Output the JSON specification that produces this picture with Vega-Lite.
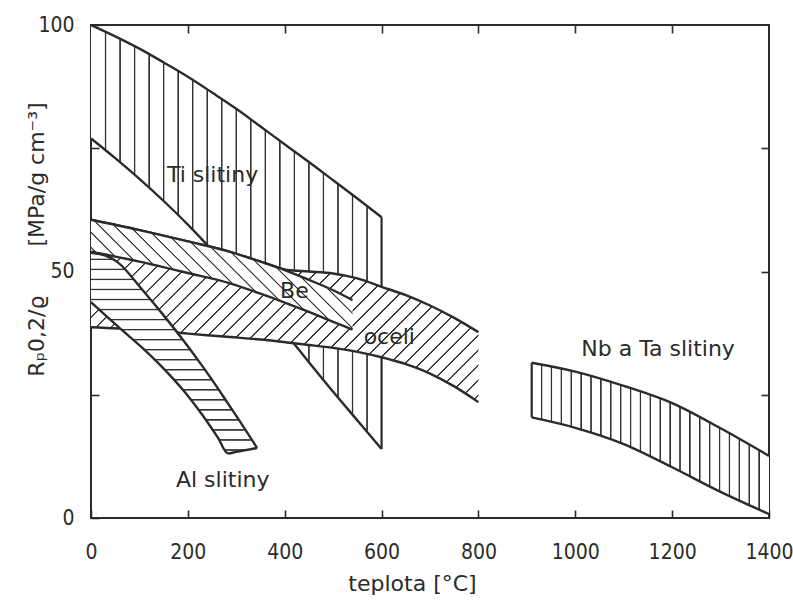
{
  "$schema": "https://vega.github.io/schema/vega-lite/v6.json",
  "width": 678,
  "height": 493,
  "autosize": "none",
  "padding": {"left": 91, "top": 25, "right": 24, "bottom": 86},
  "background": "white",
  "config": {
    "view": {"stroke": "#2b2b2b", "strokeWidth": 2},
    "axis": {
      "grid": false,
      "domain": false,
      "ticks": true,
      "tickSize": -8,
      "tickWidth": 1.6,
      "tickColor": "#2b2b2b",
      "labelFont": "DejaVu Sans Condensed, DejaVu Sans, sans-serif",
      "labelFontSize": 21,
      "labelColor": "#2b2b2b",
      "titleFont": "DejaVu Sans",
      "titleFontWeight": "normal",
      "titleFontSize": 22,
      "titleColor": "#2b2b2b"
    }
  },
  "datasets": {
    "ti": [
      {"x": 0, "hi": 100, "lo": 77}, {"x": 50, "hi": 97.7, "lo": 73}, {"x": 100, "hi": 95.2, "lo": 68.8},
      {"x": 150, "hi": 92.4, "lo": 64.3}, {"x": 200, "hi": 89.5, "lo": 59.5}, {"x": 250, "hi": 86.3, "lo": 54.3},
      {"x": 300, "hi": 83, "lo": 48.8}, {"x": 350, "hi": 79.4, "lo": 43}, {"x": 418, "hi": 74.5, "lo": 35.5},
      {"x": 450, "hi": 72.2, "lo": 31.6}, {"x": 500, "hi": 68.5, "lo": 25.6}, {"x": 550, "hi": 64.8, "lo": 19.8},
      {"x": 600, "hi": 61, "lo": 14}
    ],
    "steel": [
      {"x": 0, "hi": 60.5, "lo": 38.7}, {"x": 100, "hi": 58.4, "lo": 38.2}, {"x": 200, "hi": 56.1, "lo": 37.4},
      {"x": 287, "hi": 54, "lo": 36.7}, {"x": 350, "hi": 52, "lo": 36.2}, {"x": 405, "hi": 50.3, "lo": 35.6},
      {"x": 450, "hi": 50, "lo": 35.1}, {"x": 500, "hi": 49.6, "lo": 34.5}, {"x": 550, "hi": 48.6, "lo": 33.7},
      {"x": 600, "hi": 46.9, "lo": 32.6}, {"x": 650, "hi": 45.2, "lo": 31.2}, {"x": 700, "hi": 43.1, "lo": 29.3},
      {"x": 750, "hi": 40.6, "lo": 26.7}, {"x": 800, "hi": 37.7, "lo": 23.5}
    ],
    "be": [
      {"x": 0, "hi": 60.5, "lo": 54}, {"x": 100, "hi": 58.4, "lo": 52}, {"x": 200, "hi": 56.1, "lo": 49.7},
      {"x": 287, "hi": 54, "lo": 47.6}, {"x": 350, "hi": 52, "lo": 45.5}, {"x": 400, "hi": 50.3, "lo": 43.7},
      {"x": 450, "hi": 48.3, "lo": 41.8}, {"x": 500, "hi": 46.2, "lo": 39.8}, {"x": 540, "hi": 44.2, "lo": 38.2}
    ],
    "al": [
      {"x": 0, "hi": 53.8, "lo": 43.8}, {"x": 30, "hi": 53.2, "lo": 41.1}, {"x": 56, "hi": 51.8, "lo": 38.8},
      {"x": 105, "hi": 46.4, "lo": 34.6}, {"x": 150, "hi": 41.1, "lo": 30.3}, {"x": 194, "hi": 35.6, "lo": 25.5},
      {"x": 230, "hi": 30.8, "lo": 20.9}, {"x": 262, "hi": 26.3, "lo": 16.3}, {"x": 283, "hi": 23.2, "lo": 13.1},
      {"x": 300, "hi": 20.7, "lo": 13.4}, {"x": 343, "hi": 14.2, "lo": 14.2}
    ],
    "nb": [
      {"x": 910, "hi": 31.5, "lo": 20.4}, {"x": 1000, "hi": 29.7, "lo": 18.3}, {"x": 1100, "hi": 26.8, "lo": 15},
      {"x": 1200, "hi": 23.3, "lo": 10.3}, {"x": 1300, "hi": 18.2, "lo": 5.3}, {"x": 1400, "hi": 12.6, "lo": 0.8}
    ],
    "labels": [
      {"t": "Ti slitiny", "x": 251, "y": 69.6},
      {"t": "Be", "x": 420, "y": 46},
      {"t": "oceli", "x": 616, "y": 36.7},
      {"t": "Nb a Ta slitiny", "x": 1171, "y": 34.3},
      {"t": "Al slitiny", "x": 272, "y": 7.7}
    ]
  },
  "encoding": {
    "x": {"field": "x", "type": "quantitative", "scale": {"domain": [0, 1400], "nice": false, "zero": false}, "axis": null}
  },
  "layer": [
    {
      "data": {"name": "ti"},
      "mark": {"type": "area", "interpolate": "monotone", "fill": {"gradient": "linear", "x1": 0, "y1": 0, "x2": 1, "y2": 0, "stops": [
        {"offset": 0, "color": "white"},
        {"offset": 0.0462, "color": "white"}, {"offset": 0.0486, "color": "#333"}, {"offset": 0.0514, "color": "#333"}, {"offset": 0.0538, "color": "white"},
        {"offset": 0.0962, "color": "white"}, {"offset": 0.0986, "color": "#333"}, {"offset": 0.1014, "color": "#333"}, {"offset": 0.1038, "color": "white"},
        {"offset": 0.1462, "color": "white"}, {"offset": 0.1486, "color": "#333"}, {"offset": 0.1514, "color": "#333"}, {"offset": 0.1538, "color": "white"},
        {"offset": 0.1962, "color": "white"}, {"offset": 0.1986, "color": "#333"}, {"offset": 0.2014, "color": "#333"}, {"offset": 0.2038, "color": "white"},
        {"offset": 0.2462, "color": "white"}, {"offset": 0.2486, "color": "#333"}, {"offset": 0.2514, "color": "#333"}, {"offset": 0.2538, "color": "white"},
        {"offset": 0.2962, "color": "white"}, {"offset": 0.2986, "color": "#333"}, {"offset": 0.3014, "color": "#333"}, {"offset": 0.3038, "color": "white"},
        {"offset": 0.3462, "color": "white"}, {"offset": 0.3486, "color": "#333"}, {"offset": 0.3514, "color": "#333"}, {"offset": 0.3538, "color": "white"},
        {"offset": 0.3962, "color": "white"}, {"offset": 0.3986, "color": "#333"}, {"offset": 0.4014, "color": "#333"}, {"offset": 0.4038, "color": "white"},
        {"offset": 0.4462, "color": "white"}, {"offset": 0.4486, "color": "#333"}, {"offset": 0.4514, "color": "#333"}, {"offset": 0.4538, "color": "white"},
        {"offset": 0.4962, "color": "white"}, {"offset": 0.4986, "color": "#333"}, {"offset": 0.5014, "color": "#333"}, {"offset": 0.5038, "color": "white"},
        {"offset": 0.5462, "color": "white"}, {"offset": 0.5486, "color": "#333"}, {"offset": 0.5514, "color": "#333"}, {"offset": 0.5538, "color": "white"},
        {"offset": 0.5962, "color": "white"}, {"offset": 0.5986, "color": "#333"}, {"offset": 0.6014, "color": "#333"}, {"offset": 0.6038, "color": "white"},
        {"offset": 0.6462, "color": "white"}, {"offset": 0.6486, "color": "#333"}, {"offset": 0.6514, "color": "#333"}, {"offset": 0.6538, "color": "white"},
        {"offset": 0.6962, "color": "white"}, {"offset": 0.6986, "color": "#333"}, {"offset": 0.7014, "color": "#333"}, {"offset": 0.7038, "color": "white"},
        {"offset": 0.7462, "color": "white"}, {"offset": 0.7486, "color": "#333"}, {"offset": 0.7514, "color": "#333"}, {"offset": 0.7538, "color": "white"},
        {"offset": 0.7962, "color": "white"}, {"offset": 0.7986, "color": "#333"}, {"offset": 0.8014, "color": "#333"}, {"offset": 0.8038, "color": "white"},
        {"offset": 0.8462, "color": "white"}, {"offset": 0.8486, "color": "#333"}, {"offset": 0.8514, "color": "#333"}, {"offset": 0.8538, "color": "white"},
        {"offset": 0.8962, "color": "white"}, {"offset": 0.8986, "color": "#333"}, {"offset": 0.9014, "color": "#333"}, {"offset": 0.9038, "color": "white"},
        {"offset": 0.9462, "color": "white"}, {"offset": 0.9486, "color": "#333"}, {"offset": 0.9514, "color": "#333"}, {"offset": 0.9538, "color": "white"},
        {"offset": 1, "color": "white"}
      ]}},
      "encoding": {
        "x": {"field": "x", "type": "quantitative", "scale": {"domain": [0, 1400], "nice": false, "zero": false},
              "axis": {"orient": "bottom", "values": [0, 200, 400, 600, 800, 1000, 1200, 1400], "format": "d", "labelPadding": 31, "labelFlush": false,
                       "title": "teplota [°C]", "titleX": 321, "titleY": 65, "titleBaseline": "middle", "titleAlign": "center"}},
        "y": {"field": "hi", "type": "quantitative", "scale": {"domain": [0, 100], "nice": false, "zero": false},
              "axis": {"orient": "left", "values": [0, 25, 50, 75, 100], "labelExpr": "datum.value % 50 == 0 ? datum.label : ''", "labelPadding": 25, "labelFlush": false,
                       "title": "Rₚ0,2/ϱ\u00a0\u00a0\u00a0\u00a0\u00a0\u00a0\u00a0[MPa/g cm⁻³]", "titleX": -55, "titleY": 214, "titleBaseline": "middle", "titleAlign": "center"}},
        "y2": {"field": "lo"}
      }
    },
    {
      "data": {"name": "ti"},
      "mark": {"type": "line", "interpolate": "monotone", "color": "#2b2b2b", "strokeWidth": 2.4},
      "encoding": {"y": {"field": "hi", "type": "quantitative", "scale": {"domain": [0, 100], "nice": false}, "axis": null}}
    },
    {
      "data": {"name": "ti"},
      "mark": {"type": "line", "interpolate": "monotone", "color": "#2b2b2b", "strokeWidth": 2.4},
      "encoding": {"y": {"field": "lo", "type": "quantitative", "scale": {"domain": [0, 100], "nice": false}, "axis": null}}
    },
    {
      "data": {"name": "ti"},
      "transform": [{"filter": "datum.x == 600"}],
      "mark": {"type": "rule", "color": "#2b2b2b", "strokeWidth": 2.2},
      "encoding": {"y": {"field": "hi", "type": "quantitative", "scale": {"domain": [0, 100], "nice": false}, "axis": null}, "y2": {"field": "lo"}}
    },
    {
      "data": {"name": "steel"},
      "mark": {"type": "area", "interpolate": "monotone", "fill": {"gradient": "linear", "x1": 0, "y1": 0, "x2": 1.204, "y2": 0.567, "stops": [
        {"offset": 0, "color": "white"},
        {"offset": 0.0109, "color": "white"}, {"offset": 0.0123, "color": "#333"}, {"offset": 0.0141, "color": "#333"}, {"offset": 0.0155, "color": "white"},
        {"offset": 0.0372, "color": "white"}, {"offset": 0.0386, "color": "#333"}, {"offset": 0.0404, "color": "#333"}, {"offset": 0.0418, "color": "white"},
        {"offset": 0.0636, "color": "white"}, {"offset": 0.0650, "color": "#333"}, {"offset": 0.0668, "color": "#333"}, {"offset": 0.0682, "color": "white"},
        {"offset": 0.0899, "color": "white"}, {"offset": 0.0913, "color": "#333"}, {"offset": 0.0931, "color": "#333"}, {"offset": 0.0945, "color": "white"},
        {"offset": 0.1163, "color": "white"}, {"offset": 0.1177, "color": "#333"}, {"offset": 0.1195, "color": "#333"}, {"offset": 0.1209, "color": "white"},
        {"offset": 0.1426, "color": "white"}, {"offset": 0.1440, "color": "#333"}, {"offset": 0.1458, "color": "#333"}, {"offset": 0.1472, "color": "white"},
        {"offset": 0.1689, "color": "white"}, {"offset": 0.1703, "color": "#333"}, {"offset": 0.1721, "color": "#333"}, {"offset": 0.1735, "color": "white"},
        {"offset": 0.1953, "color": "white"}, {"offset": 0.1967, "color": "#333"}, {"offset": 0.1985, "color": "#333"}, {"offset": 0.1999, "color": "white"},
        {"offset": 0.2216, "color": "white"}, {"offset": 0.2230, "color": "#333"}, {"offset": 0.2248, "color": "#333"}, {"offset": 0.2262, "color": "white"},
        {"offset": 0.2480, "color": "white"}, {"offset": 0.2494, "color": "#333"}, {"offset": 0.2512, "color": "#333"}, {"offset": 0.2526, "color": "white"},
        {"offset": 0.2743, "color": "white"}, {"offset": 0.2757, "color": "#333"}, {"offset": 0.2775, "color": "#333"}, {"offset": 0.2789, "color": "white"},
        {"offset": 0.3006, "color": "white"}, {"offset": 0.3020, "color": "#333"}, {"offset": 0.3038, "color": "#333"}, {"offset": 0.3052, "color": "white"},
        {"offset": 0.3270, "color": "white"}, {"offset": 0.3284, "color": "#333"}, {"offset": 0.3302, "color": "#333"}, {"offset": 0.3316, "color": "white"},
        {"offset": 0.3533, "color": "white"}, {"offset": 0.3547, "color": "#333"}, {"offset": 0.3565, "color": "#333"}, {"offset": 0.3579, "color": "white"},
        {"offset": 0.3797, "color": "white"}, {"offset": 0.3811, "color": "#333"}, {"offset": 0.3829, "color": "#333"}, {"offset": 0.3843, "color": "white"},
        {"offset": 0.4060, "color": "white"}, {"offset": 0.4074, "color": "#333"}, {"offset": 0.4092, "color": "#333"}, {"offset": 0.4106, "color": "white"},
        {"offset": 0.4323, "color": "white"}, {"offset": 0.4337, "color": "#333"}, {"offset": 0.4355, "color": "#333"}, {"offset": 0.4369, "color": "white"},
        {"offset": 0.4587, "color": "white"}, {"offset": 0.4601, "color": "#333"}, {"offset": 0.4619, "color": "#333"}, {"offset": 0.4633, "color": "white"},
        {"offset": 0.4850, "color": "white"}, {"offset": 0.4864, "color": "#333"}, {"offset": 0.4882, "color": "#333"}, {"offset": 0.4896, "color": "white"},
        {"offset": 0.5114, "color": "white"}, {"offset": 0.5128, "color": "#333"}, {"offset": 0.5146, "color": "#333"}, {"offset": 0.5160, "color": "white"},
        {"offset": 0.5377, "color": "white"}, {"offset": 0.5391, "color": "#333"}, {"offset": 0.5409, "color": "#333"}, {"offset": 0.5423, "color": "white"},
        {"offset": 0.5640, "color": "white"}, {"offset": 0.5654, "color": "#333"}, {"offset": 0.5672, "color": "#333"}, {"offset": 0.5686, "color": "white"},
        {"offset": 0.5904, "color": "white"}, {"offset": 0.5918, "color": "#333"}, {"offset": 0.5936, "color": "#333"}, {"offset": 0.5950, "color": "white"},
        {"offset": 0.6167, "color": "white"}, {"offset": 0.6181, "color": "#333"}, {"offset": 0.6199, "color": "#333"}, {"offset": 0.6213, "color": "white"},
        {"offset": 0.6431, "color": "white"}, {"offset": 0.6445, "color": "#333"}, {"offset": 0.6463, "color": "#333"}, {"offset": 0.6477, "color": "white"},
        {"offset": 0.6694, "color": "white"}, {"offset": 0.6708, "color": "#333"}, {"offset": 0.6726, "color": "#333"}, {"offset": 0.6740, "color": "white"},
        {"offset": 0.6957, "color": "white"}, {"offset": 0.6971, "color": "#333"}, {"offset": 0.6989, "color": "#333"}, {"offset": 0.7003, "color": "white"},
        {"offset": 0.7221, "color": "white"}, {"offset": 0.7235, "color": "#333"}, {"offset": 0.7253, "color": "#333"}, {"offset": 0.7267, "color": "white"},
        {"offset": 0.7484, "color": "white"}, {"offset": 0.7498, "color": "#333"}, {"offset": 0.7516, "color": "#333"}, {"offset": 0.7530, "color": "white"},
        {"offset": 0.7748, "color": "white"}, {"offset": 0.7762, "color": "#333"}, {"offset": 0.7780, "color": "#333"}, {"offset": 0.7794, "color": "white"},
        {"offset": 0.8011, "color": "white"}, {"offset": 0.8025, "color": "#333"}, {"offset": 0.8043, "color": "#333"}, {"offset": 0.8057, "color": "white"},
        {"offset": 0.8274, "color": "white"}, {"offset": 0.8288, "color": "#333"}, {"offset": 0.8306, "color": "#333"}, {"offset": 0.8320, "color": "white"},
        {"offset": 0.8538, "color": "white"}, {"offset": 0.8552, "color": "#333"}, {"offset": 0.8570, "color": "#333"}, {"offset": 0.8584, "color": "white"},
        {"offset": 0.8801, "color": "white"}, {"offset": 0.8815, "color": "#333"}, {"offset": 0.8833, "color": "#333"}, {"offset": 0.8847, "color": "white"},
        {"offset": 0.9065, "color": "white"}, {"offset": 0.9079, "color": "#333"}, {"offset": 0.9097, "color": "#333"}, {"offset": 0.9111, "color": "white"},
        {"offset": 0.9328, "color": "white"}, {"offset": 0.9342, "color": "#333"}, {"offset": 0.9360, "color": "#333"}, {"offset": 0.9374, "color": "white"},
        {"offset": 0.9591, "color": "white"}, {"offset": 0.9605, "color": "#333"}, {"offset": 0.9623, "color": "#333"}, {"offset": 0.9637, "color": "white"},
        {"offset": 0.9855, "color": "white"}, {"offset": 0.9869, "color": "#333"}, {"offset": 0.9887, "color": "#333"}, {"offset": 0.9901, "color": "white"},
        {"offset": 1, "color": "white"}
      ]}},
      "encoding": {"y": {"field": "hi", "type": "quantitative", "scale": {"domain": [0, 100], "nice": false}, "axis": null}, "y2": {"field": "lo"}}
    },
    {
      "data": {"name": "steel"},
      "mark": {"type": "line", "interpolate": "monotone", "color": "#2b2b2b", "strokeWidth": 2.4},
      "encoding": {"y": {"field": "hi", "type": "quantitative", "scale": {"domain": [0, 100], "nice": false}, "axis": null}}
    },
    {
      "data": {"name": "steel"},
      "mark": {"type": "line", "interpolate": "monotone", "color": "#2b2b2b", "strokeWidth": 2.4},
      "encoding": {"y": {"field": "lo", "type": "quantitative", "scale": {"domain": [0, 100], "nice": false}, "axis": null}}
    },
    {
      "data": {"name": "be"},
      "mark": {"type": "area", "interpolate": "monotone", "fill": {"gradient": "linear", "x1": 0, "y1": 1, "x2": 1.207, "y2": 0.491, "stops": [
        {"offset": 0, "color": "white"},
        {"offset": 0.0169, "color": "white"}, {"offset": 0.0190, "color": "#333"}, {"offset": 0.0214, "color": "#333"}, {"offset": 0.0235, "color": "white"},
        {"offset": 0.0573, "color": "white"}, {"offset": 0.0594, "color": "#333"}, {"offset": 0.0618, "color": "#333"}, {"offset": 0.0639, "color": "white"},
        {"offset": 0.0977, "color": "white"}, {"offset": 0.0998, "color": "#333"}, {"offset": 0.1022, "color": "#333"}, {"offset": 0.1043, "color": "white"},
        {"offset": 0.1381, "color": "white"}, {"offset": 0.1402, "color": "#333"}, {"offset": 0.1426, "color": "#333"}, {"offset": 0.1447, "color": "white"},
        {"offset": 0.1785, "color": "white"}, {"offset": 0.1806, "color": "#333"}, {"offset": 0.1830, "color": "#333"}, {"offset": 0.1851, "color": "white"},
        {"offset": 0.2189, "color": "white"}, {"offset": 0.2210, "color": "#333"}, {"offset": 0.2234, "color": "#333"}, {"offset": 0.2255, "color": "white"},
        {"offset": 0.2593, "color": "white"}, {"offset": 0.2614, "color": "#333"}, {"offset": 0.2638, "color": "#333"}, {"offset": 0.2659, "color": "white"},
        {"offset": 0.2997, "color": "white"}, {"offset": 0.3018, "color": "#333"}, {"offset": 0.3042, "color": "#333"}, {"offset": 0.3063, "color": "white"},
        {"offset": 0.3401, "color": "white"}, {"offset": 0.3422, "color": "#333"}, {"offset": 0.3446, "color": "#333"}, {"offset": 0.3467, "color": "white"},
        {"offset": 0.3805, "color": "white"}, {"offset": 0.3826, "color": "#333"}, {"offset": 0.3850, "color": "#333"}, {"offset": 0.3871, "color": "white"},
        {"offset": 0.4209, "color": "white"}, {"offset": 0.4230, "color": "#333"}, {"offset": 0.4254, "color": "#333"}, {"offset": 0.4275, "color": "white"},
        {"offset": 0.4613, "color": "white"}, {"offset": 0.4634, "color": "#333"}, {"offset": 0.4658, "color": "#333"}, {"offset": 0.4679, "color": "white"},
        {"offset": 0.5017, "color": "white"}, {"offset": 0.5038, "color": "#333"}, {"offset": 0.5062, "color": "#333"}, {"offset": 0.5083, "color": "white"},
        {"offset": 0.5421, "color": "white"}, {"offset": 0.5442, "color": "#333"}, {"offset": 0.5466, "color": "#333"}, {"offset": 0.5487, "color": "white"},
        {"offset": 0.5825, "color": "white"}, {"offset": 0.5846, "color": "#333"}, {"offset": 0.5870, "color": "#333"}, {"offset": 0.5891, "color": "white"},
        {"offset": 0.6229, "color": "white"}, {"offset": 0.6250, "color": "#333"}, {"offset": 0.6274, "color": "#333"}, {"offset": 0.6295, "color": "white"},
        {"offset": 0.6633, "color": "white"}, {"offset": 0.6654, "color": "#333"}, {"offset": 0.6678, "color": "#333"}, {"offset": 0.6699, "color": "white"},
        {"offset": 0.7037, "color": "white"}, {"offset": 0.7058, "color": "#333"}, {"offset": 0.7082, "color": "#333"}, {"offset": 0.7103, "color": "white"},
        {"offset": 0.7441, "color": "white"}, {"offset": 0.7462, "color": "#333"}, {"offset": 0.7486, "color": "#333"}, {"offset": 0.7507, "color": "white"},
        {"offset": 0.7845, "color": "white"}, {"offset": 0.7866, "color": "#333"}, {"offset": 0.7890, "color": "#333"}, {"offset": 0.7911, "color": "white"},
        {"offset": 0.8249, "color": "white"}, {"offset": 0.8270, "color": "#333"}, {"offset": 0.8294, "color": "#333"}, {"offset": 0.8315, "color": "white"},
        {"offset": 0.8653, "color": "white"}, {"offset": 0.8674, "color": "#333"}, {"offset": 0.8698, "color": "#333"}, {"offset": 0.8719, "color": "white"},
        {"offset": 0.9057, "color": "white"}, {"offset": 0.9078, "color": "#333"}, {"offset": 0.9102, "color": "#333"}, {"offset": 0.9123, "color": "white"},
        {"offset": 0.9461, "color": "white"}, {"offset": 0.9482, "color": "#333"}, {"offset": 0.9506, "color": "#333"}, {"offset": 0.9527, "color": "white"},
        {"offset": 0.9865, "color": "white"}, {"offset": 0.9886, "color": "#333"}, {"offset": 0.9910, "color": "#333"}, {"offset": 0.9931, "color": "white"},
        {"offset": 1, "color": "white"}
      ]}},
      "encoding": {"y": {"field": "hi", "type": "quantitative", "scale": {"domain": [0, 100], "nice": false}, "axis": null}, "y2": {"field": "lo"}}
    },
    {
      "data": {"name": "be"},
      "mark": {"type": "line", "interpolate": "monotone", "color": "#2b2b2b", "strokeWidth": 2.4},
      "encoding": {"y": {"field": "hi", "type": "quantitative", "scale": {"domain": [0, 100], "nice": false}, "axis": null}}
    },
    {
      "data": {"name": "be"},
      "mark": {"type": "line", "interpolate": "monotone", "color": "#2b2b2b", "strokeWidth": 2.4},
      "encoding": {"y": {"field": "lo", "type": "quantitative", "scale": {"domain": [0, 100], "nice": false}, "axis": null}}
    },
    {
      "data": {"name": "al"},
      "mark": {"type": "area", "interpolate": "monotone", "fill": {"gradient": "linear", "x1": 0, "y1": 0, "x2": 0, "y2": 1, "stops": [
        {"offset": 0, "color": "white"},
        {"offset": 0.0275, "color": "white"}, {"offset": 0.031, "color": "#333"}, {"offset": 0.035, "color": "#333"}, {"offset": 0.0385, "color": "white"},
        {"offset": 0.0775, "color": "white"}, {"offset": 0.081, "color": "#333"}, {"offset": 0.085, "color": "#333"}, {"offset": 0.0885, "color": "white"},
        {"offset": 0.1275, "color": "white"}, {"offset": 0.131, "color": "#333"}, {"offset": 0.135, "color": "#333"}, {"offset": 0.1385, "color": "white"},
        {"offset": 0.1775, "color": "white"}, {"offset": 0.181, "color": "#333"}, {"offset": 0.185, "color": "#333"}, {"offset": 0.1885, "color": "white"},
        {"offset": 0.2275, "color": "white"}, {"offset": 0.231, "color": "#333"}, {"offset": 0.235, "color": "#333"}, {"offset": 0.2385, "color": "white"},
        {"offset": 0.2775, "color": "white"}, {"offset": 0.281, "color": "#333"}, {"offset": 0.285, "color": "#333"}, {"offset": 0.2885, "color": "white"},
        {"offset": 0.3275, "color": "white"}, {"offset": 0.331, "color": "#333"}, {"offset": 0.335, "color": "#333"}, {"offset": 0.3385, "color": "white"},
        {"offset": 0.3775, "color": "white"}, {"offset": 0.381, "color": "#333"}, {"offset": 0.385, "color": "#333"}, {"offset": 0.3885, "color": "white"},
        {"offset": 0.4275, "color": "white"}, {"offset": 0.431, "color": "#333"}, {"offset": 0.435, "color": "#333"}, {"offset": 0.4385, "color": "white"},
        {"offset": 0.4775, "color": "white"}, {"offset": 0.481, "color": "#333"}, {"offset": 0.485, "color": "#333"}, {"offset": 0.4885, "color": "white"},
        {"offset": 0.5275, "color": "white"}, {"offset": 0.531, "color": "#333"}, {"offset": 0.535, "color": "#333"}, {"offset": 0.5385, "color": "white"},
        {"offset": 0.5775, "color": "white"}, {"offset": 0.581, "color": "#333"}, {"offset": 0.585, "color": "#333"}, {"offset": 0.5885, "color": "white"},
        {"offset": 0.6275, "color": "white"}, {"offset": 0.631, "color": "#333"}, {"offset": 0.635, "color": "#333"}, {"offset": 0.6385, "color": "white"},
        {"offset": 0.6775, "color": "white"}, {"offset": 0.681, "color": "#333"}, {"offset": 0.685, "color": "#333"}, {"offset": 0.6885, "color": "white"},
        {"offset": 0.7275, "color": "white"}, {"offset": 0.731, "color": "#333"}, {"offset": 0.735, "color": "#333"}, {"offset": 0.7385, "color": "white"},
        {"offset": 0.7775, "color": "white"}, {"offset": 0.781, "color": "#333"}, {"offset": 0.785, "color": "#333"}, {"offset": 0.7885, "color": "white"},
        {"offset": 0.8275, "color": "white"}, {"offset": 0.831, "color": "#333"}, {"offset": 0.835, "color": "#333"}, {"offset": 0.8385, "color": "white"},
        {"offset": 0.8775, "color": "white"}, {"offset": 0.881, "color": "#333"}, {"offset": 0.885, "color": "#333"}, {"offset": 0.8885, "color": "white"},
        {"offset": 0.9275, "color": "white"}, {"offset": 0.931, "color": "#333"}, {"offset": 0.935, "color": "#333"}, {"offset": 0.9385, "color": "white"},
        {"offset": 0.9775, "color": "white"}, {"offset": 0.981, "color": "#333"}, {"offset": 0.985, "color": "#333"}, {"offset": 0.9885, "color": "white"},
        {"offset": 1, "color": "white"}
      ]}},
      "encoding": {"y": {"field": "hi", "type": "quantitative", "scale": {"domain": [0, 100], "nice": false}, "axis": null}, "y2": {"field": "lo"}}
    },
    {
      "data": {"name": "al"},
      "mark": {"type": "line", "interpolate": "monotone", "color": "#2b2b2b", "strokeWidth": 2.4},
      "encoding": {"y": {"field": "hi", "type": "quantitative", "scale": {"domain": [0, 100], "nice": false}, "axis": null}}
    },
    {
      "data": {"name": "al"},
      "mark": {"type": "line", "interpolate": "monotone", "color": "#2b2b2b", "strokeWidth": 2.4},
      "encoding": {"y": {"field": "lo", "type": "quantitative", "scale": {"domain": [0, 100], "nice": false}, "axis": null}}
    },
    {
      "data": {"name": "nb"},
      "mark": {"type": "area", "interpolate": "monotone", "fill": {"gradient": "linear", "x1": 0, "y1": 0, "x2": 1, "y2": 0, "stops": [
        {"offset": 0, "color": "white"},
        {"offset": 0.0371, "color": "white"}, {"offset": 0.0400, "color": "#333"}, {"offset": 0.0434, "color": "#333"}, {"offset": 0.0463, "color": "white"},
        {"offset": 0.0787, "color": "white"}, {"offset": 0.0816, "color": "#333"}, {"offset": 0.0850, "color": "#333"}, {"offset": 0.0879, "color": "white"},
        {"offset": 0.1204, "color": "white"}, {"offset": 0.1233, "color": "#333"}, {"offset": 0.1267, "color": "#333"}, {"offset": 0.1296, "color": "white"},
        {"offset": 0.1621, "color": "white"}, {"offset": 0.1650, "color": "#333"}, {"offset": 0.1684, "color": "#333"}, {"offset": 0.1713, "color": "white"},
        {"offset": 0.2037, "color": "white"}, {"offset": 0.2066, "color": "#333"}, {"offset": 0.2100, "color": "#333"}, {"offset": 0.2129, "color": "white"},
        {"offset": 0.2454, "color": "white"}, {"offset": 0.2483, "color": "#333"}, {"offset": 0.2517, "color": "#333"}, {"offset": 0.2546, "color": "white"},
        {"offset": 0.2871, "color": "white"}, {"offset": 0.2900, "color": "#333"}, {"offset": 0.2934, "color": "#333"}, {"offset": 0.2963, "color": "white"},
        {"offset": 0.3287, "color": "white"}, {"offset": 0.3316, "color": "#333"}, {"offset": 0.3350, "color": "#333"}, {"offset": 0.3379, "color": "white"},
        {"offset": 0.3704, "color": "white"}, {"offset": 0.3733, "color": "#333"}, {"offset": 0.3767, "color": "#333"}, {"offset": 0.3796, "color": "white"},
        {"offset": 0.4121, "color": "white"}, {"offset": 0.4150, "color": "#333"}, {"offset": 0.4184, "color": "#333"}, {"offset": 0.4213, "color": "white"},
        {"offset": 0.4537, "color": "white"}, {"offset": 0.4566, "color": "#333"}, {"offset": 0.4600, "color": "#333"}, {"offset": 0.4629, "color": "white"},
        {"offset": 0.4954, "color": "white"}, {"offset": 0.4983, "color": "#333"}, {"offset": 0.5017, "color": "#333"}, {"offset": 0.5046, "color": "white"},
        {"offset": 0.5371, "color": "white"}, {"offset": 0.5400, "color": "#333"}, {"offset": 0.5434, "color": "#333"}, {"offset": 0.5463, "color": "white"},
        {"offset": 0.5787, "color": "white"}, {"offset": 0.5816, "color": "#333"}, {"offset": 0.5850, "color": "#333"}, {"offset": 0.5879, "color": "white"},
        {"offset": 0.6204, "color": "white"}, {"offset": 0.6233, "color": "#333"}, {"offset": 0.6267, "color": "#333"}, {"offset": 0.6296, "color": "white"},
        {"offset": 0.6621, "color": "white"}, {"offset": 0.6650, "color": "#333"}, {"offset": 0.6684, "color": "#333"}, {"offset": 0.6713, "color": "white"},
        {"offset": 0.7037, "color": "white"}, {"offset": 0.7066, "color": "#333"}, {"offset": 0.7100, "color": "#333"}, {"offset": 0.7129, "color": "white"},
        {"offset": 0.7454, "color": "white"}, {"offset": 0.7483, "color": "#333"}, {"offset": 0.7517, "color": "#333"}, {"offset": 0.7546, "color": "white"},
        {"offset": 0.7871, "color": "white"}, {"offset": 0.7900, "color": "#333"}, {"offset": 0.7934, "color": "#333"}, {"offset": 0.7963, "color": "white"},
        {"offset": 0.8287, "color": "white"}, {"offset": 0.8316, "color": "#333"}, {"offset": 0.8350, "color": "#333"}, {"offset": 0.8379, "color": "white"},
        {"offset": 0.8704, "color": "white"}, {"offset": 0.8733, "color": "#333"}, {"offset": 0.8767, "color": "#333"}, {"offset": 0.8796, "color": "white"},
        {"offset": 0.9121, "color": "white"}, {"offset": 0.9150, "color": "#333"}, {"offset": 0.9184, "color": "#333"}, {"offset": 0.9213, "color": "white"},
        {"offset": 0.9537, "color": "white"}, {"offset": 0.9566, "color": "#333"}, {"offset": 0.9600, "color": "#333"}, {"offset": 0.9629, "color": "white"},
        {"offset": 1, "color": "white"}
      ]}},
      "encoding": {"y": {"field": "hi", "type": "quantitative", "scale": {"domain": [0, 100], "nice": false}, "axis": null}, "y2": {"field": "lo"}}
    },
    {
      "data": {"name": "nb"},
      "mark": {"type": "line", "interpolate": "monotone", "color": "#2b2b2b", "strokeWidth": 2.4},
      "encoding": {
        "x": {"field": "x", "type": "quantitative", "scale": {"domain": [0, 1400], "nice": false, "zero": false},
              "axis": {"orient": "top", "values": [200, 400, 600, 800, 1000, 1200], "labels": false, "title": null}},
        "y": {"field": "hi", "type": "quantitative", "scale": {"domain": [0, 100], "nice": false},
              "axis": {"orient": "right", "values": [25, 50, 75], "labels": false, "title": null}}
      }
    },
    {
      "data": {"name": "nb"},
      "mark": {"type": "line", "interpolate": "monotone", "color": "#2b2b2b", "strokeWidth": 2.4},
      "encoding": {"y": {"field": "lo", "type": "quantitative", "scale": {"domain": [0, 100], "nice": false}, "axis": null}}
    },
    {
      "data": {"name": "nb"},
      "transform": [{"filter": "datum.x == 910"}],
      "mark": {"type": "rule", "color": "#2b2b2b", "strokeWidth": 2.2},
      "encoding": {"y": {"field": "hi", "type": "quantitative", "scale": {"domain": [0, 100], "nice": false}, "axis": null}, "y2": {"field": "lo"}}
    },
    {
      "data": {"name": "labels"},
      "mark": {"type": "text", "font": "DejaVu Sans", "fontSize": 22, "color": "#2b2b2b", "align": "center", "baseline": "middle"},
      "encoding": {
        "y": {"field": "y", "type": "quantitative", "scale": {"domain": [0, 100], "nice": false}, "axis": null},
        "text": {"field": "t"}
      }
    }
  ],
  "resolve": {"axis": {"x": "independent", "y": "independent"}}
}
